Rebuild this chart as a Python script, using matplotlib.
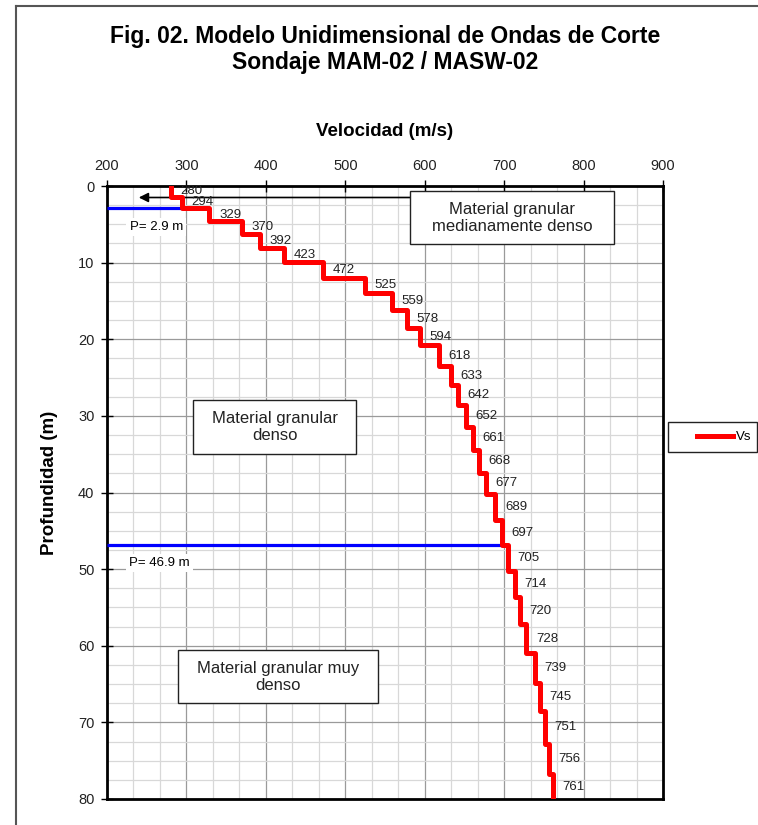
import matplotlib
matplotlib.use("Agg")
import matplotlib.pyplot as plt
from matplotlib.lines import Line2D
from matplotlib.patches import Rectangle
from matplotlib.ticker import MultipleLocator
import numpy as np

plt.rcParams["font.family"] = ["Liberation Sans", "DejaVu Sans"]

# perfil de Vs: velocidad de cada capa y profundidad de techo
vs = [280, 294, 329, 370, 392, 423, 472, 525, 559, 578, 594, 618, 633, 642, 652,
      661, 668, 677, 689, 697, 705, 714, 720, 728, 739, 745, 751, 756, 761]
techo = [0, 1.4, 2.9, 4.6, 6.2, 8.05, 9.9, 12.0, 13.9, 16.2, 18.5, 20.8, 23.5, 26.0,
         28.6, 31.4, 34.5, 37.4, 40.2, 43.6, 46.9, 50.3, 53.7, 57.2, 61.0, 64.8,
         68.5, 72.8, 76.8]
fondo = techo[1:] + [80]

contactos = [2.9, 46.9]
x_ticks = [200, 300, 400, 500, 600, 700, 800, 900]
y_ticks = [0, 10, 20, 30, 40, 50, 60, 70, 80]

W, H = 758, 825
fig = plt.figure(figsize=(W / 100, H / 100), dpi=100)
fig.patch.set_facecolor("white")

# marco exterior (solo izquierda y arriba visibles)
fig.add_artist(Line2D([16 / W, 16 / W], [1 - 6 / H, 0], transform=fig.transFigure,
                      color="#555555", lw=1.5))
fig.add_artist(Line2D([16 / W, 1], [1 - 6 / H, 1 - 6 / H], transform=fig.transFigure,
                      color="#555555", lw=1.5))

ax = fig.add_axes([107 / W, 1 - 799 / H, (663 - 107) / W, (799 - 186) / H])
ax.set_xlim(200, 900)
ax.set_ylim(80, 0)
ax.xaxis.tick_top()
ax.xaxis.set_label_position("top")
ax.set_xticks(x_ticks)
ax.set_yticks(y_ticks)
ax.xaxis.set_minor_locator(MultipleLocator(100 / 3))
ax.yaxis.set_minor_locator(MultipleLocator(2.5))
ax.grid(which="major", color="#9a9a9a", lw=0.9, zorder=0)
ax.grid(which="minor", color="#d8d8d8", lw=0.9, zorder=0)
ax.set_axisbelow(True)
ax.tick_params(which="major", direction="inout", length=8, width=1, colors="black",
               labelsize=10.5, labelcolor="#222222", pad=5)
ax.tick_params(which="minor", length=0)
for sp in ax.spines.values():
    sp.set_linewidth(2)
    sp.set_color("black")

ax.set_xlabel("Velocidad (m/s)", fontsize=13.5, fontweight="bold", labelpad=17)
ax.set_ylabel("Profundidad (m)", fontsize=13.5, fontweight="bold")
ax.yaxis.set_label_coords(-0.088, 0.515)

# contactos (lineas azules)
for p in contactos:
    i = techo.index(p)
    ax.plot([200, vs[i - 1]], [p, p], color="#0000ff", lw=2.3, zorder=3,
            solid_capstyle="butt")

# perfil escalonado
xs = np.repeat(vs, 2)
ys = np.ravel(np.column_stack([techo, fondo]))
ax.plot(xs, ys, color="#ff0000", lw=3.6, zorder=4, label="Vs")

for v, t, b in zip(vs, techo, fondo):
    ax.text(v + 12, (t + b) / 2, str(v), fontsize=9.5, color="#222222",
            ha="left", va="center", zorder=5)

# etiquetas de profundidad
ax.text(262, 5.35, "P= 2.9 m", fontsize=9.5, ha="center", va="center", zorder=2,
        bbox=dict(boxstyle="square,pad=0.25", fc="white", ec="none"))
ax.text(266, 49.2, "P= 46.9 m", fontsize=9.5, ha="center", va="center", zorder=2,
        bbox=dict(boxstyle="square,pad=0.25", fc="white", ec="none"))

# flecha
ax.annotate("", xy=(240, 1.5), xytext=(582, 1.5), zorder=3,
            arrowprops=dict(arrowstyle="-|>", color="black", lw=1.2,
                            mutation_scale=14, shrinkA=0, shrinkB=0))

# recuadros de descripcion
cajas = [
    ((582, 838), (0.65, 7.6), "Material granular\nmedianamente denso"),
    ((308, 514), (27.9, 35.0), "Material granular\ndenso"),
    ((289, 541), (60.6, 67.5), "Material granular muy\ndenso"),
]
for (x0, x1), (y0, y1), txt in cajas:
    ax.add_patch(Rectangle((x0, y0), x1 - x0, y1 - y0, fc="white", ec="#222222",
                           lw=1, zorder=6))
    ax.text((x0 + x1) / 2, (y0 + y1) / 2, txt, fontsize=12, ha="center",
            va="center", color="#222222", zorder=7, linespacing=1.15)

# titulo
fig.text(385 / W, 1 - 37 / H, "Fig. 02. Modelo Unidimensional de Ondas de Corte",
         ha="center", va="center", fontsize=16.5, fontweight="bold")
fig.text(385 / W, 1 - 62 / H, "Sondaje MAM-02 / MASW-02",
         ha="center", va="center", fontsize=16.5, fontweight="bold")

# leyenda
fig.add_artist(Rectangle((668 / W, 1 - 452 / H), 89 / W, 30 / H, zorder=-1,
                         transform=fig.transFigure, fc="white", ec="#222222", lw=1))
leg = ax.legend(loc="center left", bbox_to_anchor=(692 / W, 1 - 437 / H),
                bbox_transform=fig.transFigure, frameon=False, fontsize=9.5,
                handlelength=2.7, handletextpad=0.2, borderaxespad=0)

fig.savefig("out.png", dpi=100)
